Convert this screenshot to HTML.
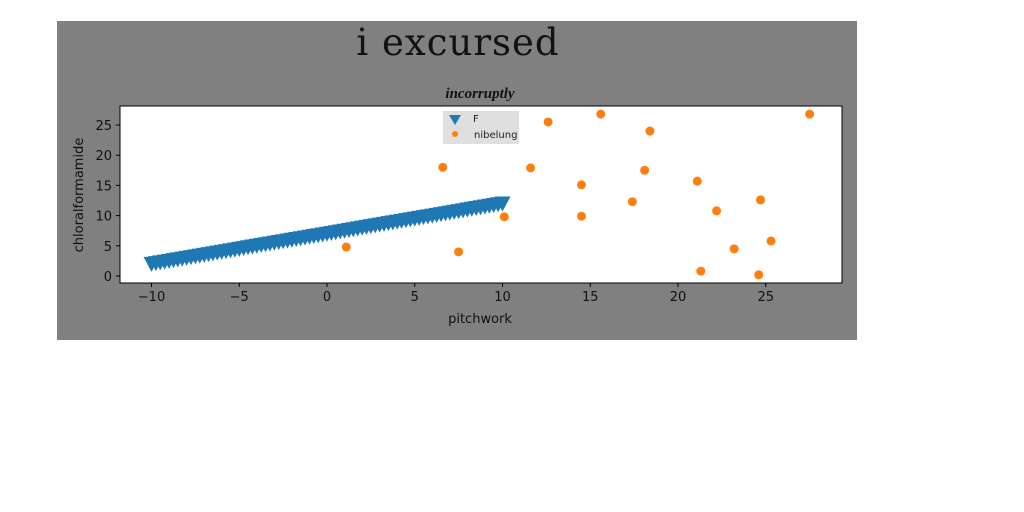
<!DOCTYPE html>
<html><head><meta charset="utf-8"><style>
body{margin:0;width:1024px;height:512px;background:#fff;overflow:hidden}
svg{display:block}
text{font-family:"DejaVu Sans","Liberation Sans",sans-serif}
</style></head><body>
<svg id="chart" width="1024" height="512">
<rect x="57" y="21" width="800" height="319" fill="#808080"/>
<text x="458" y="55" text-anchor="middle" font-size="37" letter-spacing="1" style="font-family:'DejaVu Serif','Liberation Serif',serif" fill="#111">i  excursed</text>
<text x="480" y="98" text-anchor="middle" font-size="15" font-style="italic" font-weight="bold" style="font-family:'Liberation Serif',serif" fill="#111">incorruptly</text>
<rect x="120" y="106" width="722" height="177" fill="#fff" stroke="#000" stroke-width="1"/>
<g id="marks"></g>
<g id="axes"></g>
<text x="480" y="323" text-anchor="middle" font-size="13" fill="#111">pitchwork</text>
<text transform="translate(83,195) rotate(-90)" text-anchor="middle" font-size="13" fill="#111">chloralformamide</text>
<g>
<rect x="443" y="111" width="76" height="33" fill="#dcdcdc" opacity="0.9"/>
<path d="M449,115 L461,115 L455,125 Z" fill="#1f77b4"/>
<text x="473" y="122" font-size="10" fill="#222">F</text>
<circle cx="455" cy="134" r="3" fill="#ff7f0e"/>
<text x="474" y="138" font-size="10" fill="#222">nibelung</text>
</g>
</svg>
<script>
const triX=[-10,-9.75,-9.5,-9.25,-9,-8.75,-8.5,-8.25,-8,-7.75,-7.5,-7.25,-7,-6.75,-6.5,-6.25,-6,-5.75,-5.5,-5.25,-5,-4.75,-4.5,-4.25,-4,-3.75,-3.5,-3.25,-3,-2.75,-2.5,-2.25,-2,-1.75,-1.5,-1.25,-1,-0.75,-0.5,-0.25,0,0.25,0.5,0.75,1,1.25,1.5,1.75,2,2.25,2.5,2.75,3,3.25,3.5,3.75,4,4.25,4.5,4.75,5,5.25,5.5,5.75,6,6.25,6.5,6.75,7,7.25,7.5,7.75,8,8.25,8.5,8.75,9,9.25,9.5,9.75,10];
const triY=[2,2.125,2.25,2.375,2.5,2.625,2.75,2.875,3,3.125,3.25,3.375,3.5,3.625,3.75,3.875,4,4.125,4.25,4.375,4.5,4.625,4.75,4.875,5,5.125,5.25,5.375,5.5,5.625,5.75,5.875,6,6.125,6.25,6.375,6.5,6.625,6.75,6.875,7,7.125,7.25,7.375,7.5,7.625,7.75,7.875,8,8.125,8.25,8.375,8.5,8.625,8.75,8.875,9,9.125,9.25,9.375,9.5,9.625,9.75,9.875,10,10.125,10.25,10.375,10.5,10.625,10.75,10.875,11,11.125,11.25,11.375,11.5,11.625,11.75,11.875,12];
const dotX=[1.1,6.6,7.5,10.1,11.6,12.6,14.5,14.5,15.6,17.4,18.1,18.4,21.1,21.3,22.2,23.2,24.7,24.6,25.3,27.5];
const dotY=[4.8,18.0,4.0,9.8,17.9,25.5,15.1,9.9,26.8,12.3,17.5,24.0,15.7,0.8,10.8,4.5,12.6,0.2,5.8,26.8];
const xTicks=[-10,-5,0,5,10,15,20,25];
const yTicks=[0,5,10,15,20,25];
const NS="http://www.w3.org/2000/svg";
const sx=v=>327+v*17.55;
const sy=v=>276-v*6.04;
const marks=document.getElementById('marks'), axes=document.getElementById('axes');
function mk(t,a,p){const e=document.createElementNS(NS,t);for(const k in a)e.setAttribute(k,a[k]);p.appendChild(e);return e;}
triX.forEach((x,i)=>{const cx=sx(x),cy=sy(triY[i]);
 const e=mk('path',{d:`M${cx-8},${cy-7} L${cx+8},${cy-7} L${cx},${cy+8} Z`,fill:'#1f77b4'},marks);
 
 });
dotX.forEach((x,i)=>{const e=mk('circle',{cx:sx(x),cy:sy(dotY[i]),r:4.5,fill:'#ff7f0e'},marks);
 
 });
xTicks.forEach(v=>{const x=sx(v);mk('line',{x1:x,x2:x,y1:283,y2:287,stroke:'#000'},axes);
 const t=mk('text',{x:x,y:301,'text-anchor':'middle','font-size':13,fill:'#111'},axes);t.textContent=v<0?'\u2212'+(-v):v;
 
 });
yTicks.forEach(v=>{const y=sy(v);mk('line',{x1:116,x2:120,y1:y,y2:y,stroke:'#000'},axes);
 const t=mk('text',{x:112,y:y+5,'text-anchor':'end','font-size':13,fill:'#111'},axes);t.textContent=v;
 
 });
</script>
</body></html>
